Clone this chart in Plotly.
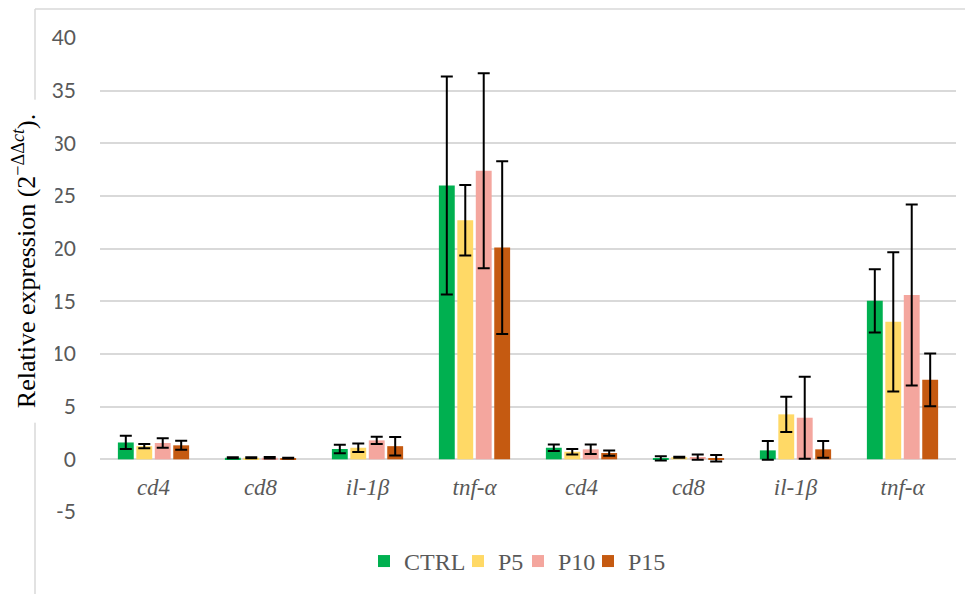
import plotly.graph_objects as go

categories = ["cd4", "cd8", "il-1β", "tnf-α", "cd4", "cd8", "il-1β", "tnf-α"]
series_names = ["CTRL", "P5", "P10", "P15"]
ctrl = [1.6, 0.15, 0.98, 26.0, 1.1, 0.1, 0.85, 15.05]
p5 = [1.25, 0.15, 1.1, 22.7, 0.72, 0.2, 4.27, 13.05]
p10 = [1.55, 0.15, 1.8, 27.4, 0.95, 0.22, 3.95, 15.6]
p15 = [1.33, 0.12, 1.25, 20.1, 0.6, 0.1, 0.95, 7.55]
ctrl_err = [0.63, 0.05, 0.41, 10.35, 0.3, 0.2, 0.9, 3.0]
p5_err = [0.2, 0.05, 0.41, 3.35, 0.25, 0.05, 1.68, 6.6]
p10_err = [0.45, 0.06, 0.35, 9.25, 0.45, 0.25, 3.9, 8.6]
p15_err = [0.43, 0.04, 0.88, 8.2, 0.25, 0.3, 0.8, 2.5]
colors = ["#00B050", "#FFD966", "#F4A69E", "#C55A11"]
y_ticks = [-5, 0, 5, 10, 15, 20, 25, 30, 35, 40]
y_tick_labels = ["-5", "0", "5", "10", "15", "20", "25", "30", "35", "40"]

values = [ctrl, p5, p10, p15]
errors = [ctrl_err, p5_err, p10_err, p15_err]
xpos = list(range(len(categories)))

# page has an 8px body margin, so screen = figure + 8
OFF = 8
PT, PB, PL, PR = 38, 511.6, 100, 956
PH, PW = PB - PT, PR - PL
def py(p):
    return (PB - p) / PH
def px(p):
    return (p - PL) / PW

legend_ids = ["legend", "legend2", "legend3", "legend4"]
legend_marker_left = [376, 470, 530, 600]

serif = "Liberation Serif, Times New Roman, serif"

fig = go.Figure()
for name, vals, errs, col, lid in zip(series_names, values, errors, colors, legend_ids):
    fig.add_trace(go.Bar(
        x=xpos, y=vals, name=name, legend=lid,
        marker=dict(color=col, line=dict(width=0)),
        error_y=dict(type="data", array=errs, visible=True,
                     color="black", thickness=2, width=6),
    ))

legends = {}
for lid, ml in zip(legend_ids, legend_marker_left):
    legends[lid] = dict(orientation="h", x=px(ml - 12), xanchor="left",
                        y=py(561), yanchor="middle",
                        font=dict(family=serif, size=24, color="#595959"),
                        itemwidth=30, bgcolor="rgba(0,0,0,0)")

fig.update_layout(
    width=973, height=594,
    margin=dict(l=PL - OFF, r=973 - PR + OFF, t=PT - OFF, b=594 - PB + OFF, autoexpand=False),
    paper_bgcolor="white", plot_bgcolor="white",
    barmode="group", bargap=0.31, bargroupgap=0.14,
    showlegend=True,
    xaxis=dict(
        tickmode="array", tickvals=xpos,
        ticktext=["<i>%s</i>" % c for c in categories],
        tickfont=dict(family=serif, size=23, color="#595959"),
        anchor="free", position=5/45, showline=False, showgrid=False,
        zeroline=False, ticks="", ticklabelstandoff=12, automargin=False,
        range=[-0.5, len(categories) - 0.5],
    ),
    yaxis=dict(
        range=[-5, 40], tickmode="array", tickvals=y_ticks, ticktext=y_tick_labels,
        tickfont=dict(family="Lato, Open Sans, sans-serif", size=21, color="#595959"),
        showgrid=True, gridcolor="#D9D9D9", gridwidth=1.5,
        zeroline=True, zerolinecolor="#D9D9D9", zerolinewidth=2,
        showline=False, ticks="", ticklabelstandoff=23, automargin=False,
    ),
    shapes=[
        dict(type="line", xref="paper", yref="paper",
             x0=px(35), x1=1.05, y0=py(9), y1=py(9),
             line=dict(color="#D9D9D9", width=1.5)),
        dict(type="line", xref="paper", yref="paper",
             x0=px(35), x1=px(35), y0=py(9), y1=py(610),
             line=dict(color="#D9D9D9", width=1.5)),
    ],
    annotations=[
        dict(text="Relative expression (2<sup>−ΔΔ<i>ct</i></sup>).",
             xref="paper", yref="paper", x=px(24), y=py(261),
             xanchor="center", yanchor="middle", textangle=-90, showarrow=False,
             bgcolor="white", borderpad=14,
             font=dict(family=serif, size=26, color="black")),
    ],
    **legends,
)

fig.write_html("out.html")
